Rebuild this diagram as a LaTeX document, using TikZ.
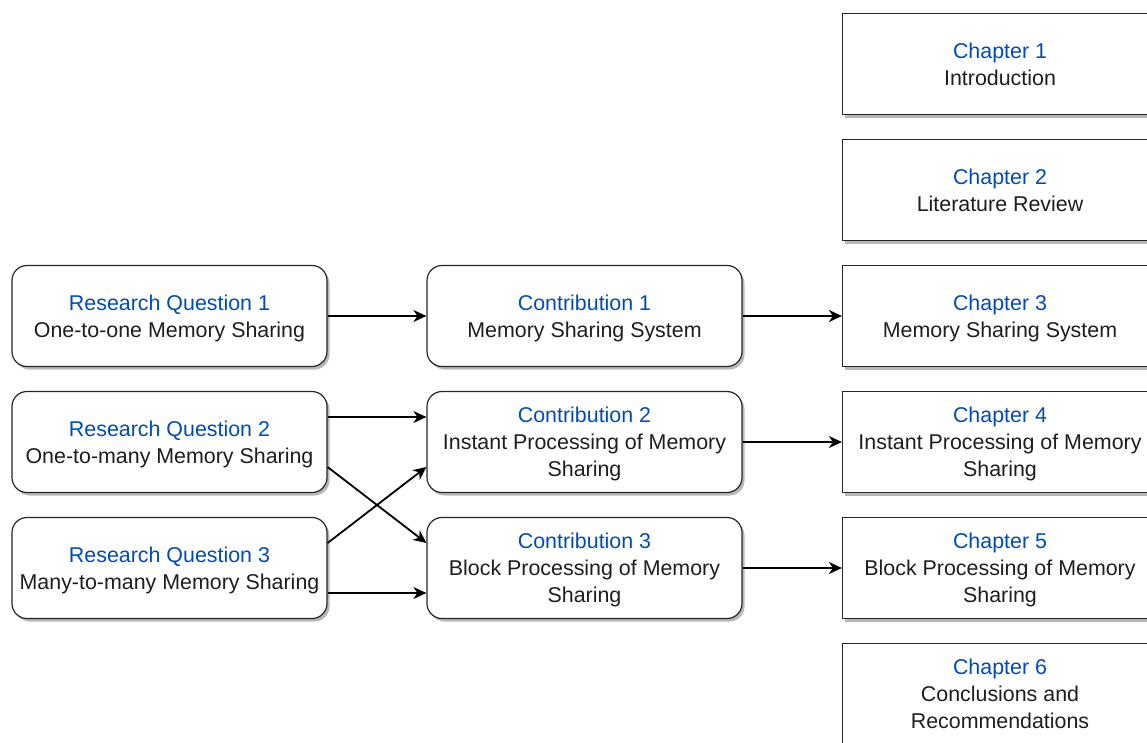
\documentclass[tikz,border=0pt]{standalone}
\usepackage{fontspec}
\setmainfont{Liberation Sans}
\usetikzlibrary{shadows,arrows.meta}
\definecolor{headblue}{RGB}{0,76,178}
\definecolor{inkgray}{RGB}{30,30,30}
\tikzset{
  box/.style={draw=black!85, line width=1.2pt, fill=white,
    minimum width=315pt, minimum height=101pt, align=center,
    inner sep=0pt, text=inkgray,
    font=\fontsize{21.4}{27}\selectfont,
    drop shadow={shadow xshift=2.5pt, shadow yshift=-3pt, fill=black!35, opacity=0.8}},
  roundbox/.style={box, rounded corners=15pt},
  chapbox/.style={box},
  link/.style={draw=black, line width=1.8pt, -{Stealth[length=13pt, width=12pt, inset=4pt]}}
}
% blue heading line
\newcommand{\hd}[1]{\textcolor{headblue}{#1}}
% last line without depth, so descenders do not shift the block
\newcommand{\lastline}[1]{\raisebox{0pt}[\height][0pt]{#1}}
\begin{document}
\begin{tikzpicture}[x=1pt, y=-1pt]
  \useasboundingbox (0,0) rectangle (1147,742);
  \clip (0,0) rectangle (1147,742);

  % research questions
  \node[roundbox] (rq1) at (169.5,316) {\hd{Research Question 1}\\\lastline{One-to-one Memory Sharing}};
  \node[roundbox] (rq2) at (169.5,442) {\hd{Research Question 2}\\\lastline{One-to-many Memory Sharing}};
  \node[roundbox] (rq3) at (169.5,568) {\hd{Research Question 3}\\\lastline{Many-to-many Memory Sharing}};

  % contributions
  \node[roundbox] (c1) at (584.5,316) {\hd{Contribution 1}\\\lastline{Memory Sharing System}};
  \node[roundbox] (c2) at (584.5,442) {\hd{Contribution 2}\\Instant Processing of Memory\\\lastline{Sharing}};
  \node[roundbox] (c3) at (584.5,568) {\hd{Contribution 3}\\Block Processing of Memory\\\lastline{Sharing}};

  % chapters
  \node[chapbox] (ch1) at (1000,64) {\hd{Chapter 1}\\\lastline{Introduction}};
  \node[chapbox] (ch2) at (1000,190) {\hd{Chapter 2}\\\lastline{Literature Review}};
  \node[chapbox] (ch3) at (1000,316) {\hd{Chapter 3}\\\lastline{Memory Sharing System}};
  \node[chapbox] (ch4) at (1000,442) {\hd{Chapter 4}\\Instant Processing of Memory\\\lastline{Sharing}};
  \node[chapbox] (ch5) at (1000,568) {\hd{Chapter 5}\\Block Processing of Memory\\\lastline{Sharing}};
  \node[chapbox] (ch6) at (1000,694) {\hd{Chapter 6}\\Conclusions and\\\lastline{Recommendations}};

  % connectors
  \draw[link] (rq1.east) -- (c1.west);
  \draw[link] (c1.east) -- (ch3.west);
  \draw[link] ([yshift=25pt]rq2.east) -- ([yshift=25pt]c2.west);
  \draw[link] ([yshift=-25pt]rq2.east) -- ([yshift=25pt]c3.west);
  \draw[link] ([yshift=25pt]rq3.east) -- ([yshift=-25pt]c2.west);
  \draw[link] ([yshift=-25pt]rq3.east) -- ([yshift=-25pt]c3.west);
  \draw[link] (c2.east) -- (ch4.west);
  \draw[link] (c3.east) -- (ch5.west);
\end{tikzpicture}
\end{document}
